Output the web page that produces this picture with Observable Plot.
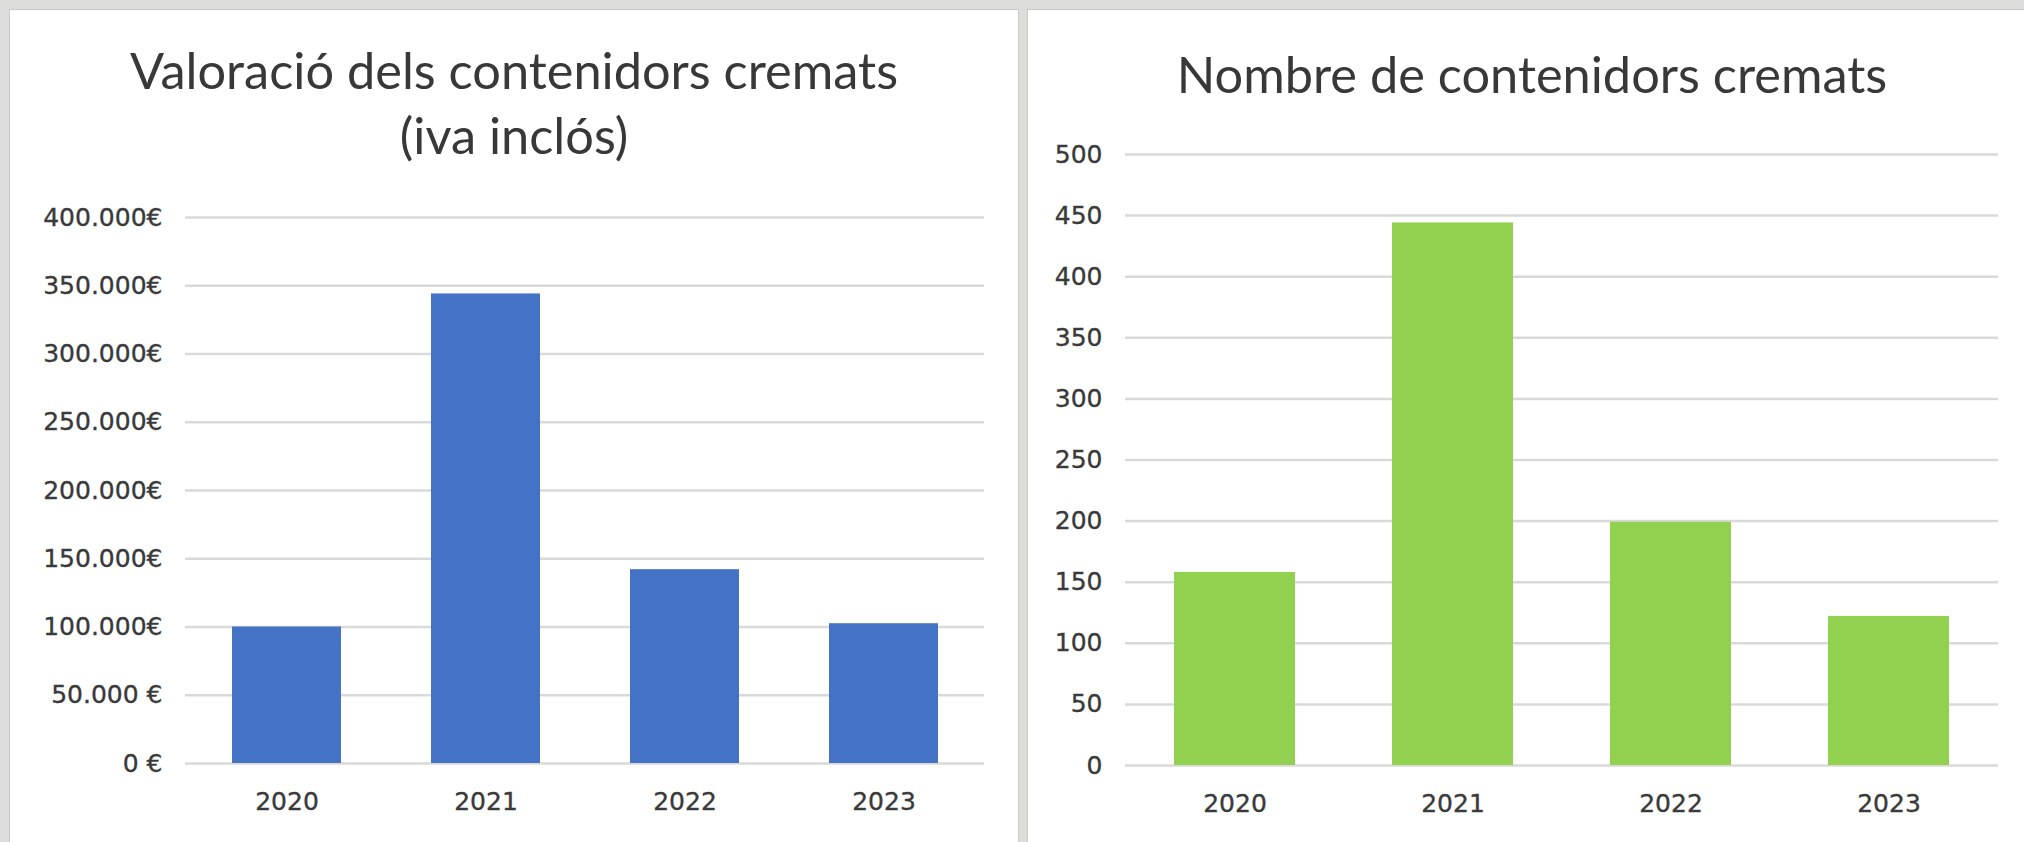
<!DOCTYPE html>
<html>
<head>
<meta charset="utf-8">
<script src="https://cdn.jsdelivr.net/npm/d3@7"></script>
<script src="https://cdn.jsdelivr.net/npm/@observablehq/plot@0.6"></script>
<style>
html, body { margin: 0; padding: 0; width: 2024px; height: 842px; overflow: hidden; background: #dcdcd9; }
.panel { position: absolute; background: #fff; border: 1px solid #c8c8c8; box-sizing: border-box; overflow: hidden; }
.title { position: absolute; left: 0; width: 100%; text-align: center; font-family: Lato, "Open Sans", sans-serif; color: #383838; font-size: 50.5px; line-height: 65px; white-space: nowrap; }
.panel svg { position: absolute; left: 0; top: 0; }
.panel svg text { stroke: currentColor; stroke-width: 0.35px; }
</style>
</head>
<body>
<div class="panel" id="left" style="left:9px; top:9px; width:1010px; height:840px;">
  <div class="title" style="top:27px;">Valoració dels contenidors cremats<br>(iva inclós)</div>
</div>
<div class="panel" id="right" style="left:1027px; top:9px; width:1010px; height:840px;">
  <div class="title" style="top:31px;">Nombre de contenidors cremats</div>
</div>
<script>
// Data
const years = ["2020", "2021", "2022", "2023"];
const valoracio = [100000, 344000, 142000, 102400];
const nombre = [158, 444, 199, 122];

const euroTicks = [0, 50000, 100000, 150000, 200000, 250000, 300000, 350000, 400000];
const euroLabels = ["0 €", "50.000 €", "100.000€", "150.000€", "200.000€", "250.000€", "300.000€", "350.000€", "400.000€"];
const countTicks = [0, 50, 100, 150, 200, 250, 300, 350, 400, 450, 500];
const countLabels = ["0", "50", "100", "150", "200", "250", "300", "350", "400", "450", "500"];

const textColor = "#3a3a3a";
const gridColor = "#d9d9d9";

function makeChart({values, ticks, labels, domainMax, fill, margins, padInner, letterSpacing}) {
  const data = years.map((y, i) => ({year: y, value: values[i]}));
  return Plot.plot({
    width: 1000,
    height: 830,
    marginLeft: margins[0],
    marginRight: margins[1],
    marginTop: margins[2],
    marginBottom: margins[3],
    style: {fontFamily: "DejaVu Sans", fontSize: "25px", color: textColor, background: "transparent", overflow: "visible"},
    x: {type: "band", domain: years, paddingInner: padInner, paddingOuter: padInner / 2},
    y: {domain: [0, domainMax]},
    marks: [
      Plot.gridY(ticks, {stroke: gridColor, strokeOpacity: 1, strokeWidth: 2.5}),
      Plot.barY(data, {x: "year", y: "value", fill: fill}),
      Plot.axisY({ticks: ticks, tickSize: 0, tickPadding: 23, tickFormat: d => labels[ticks.indexOf(d)], fontSize: 25, letterSpacing: letterSpacing, label: null}),
      Plot.axisX({tickSize: 0, tickPadding: 29, fontSize: 25, label: null})
    ]
  });
}

const leftChart = makeChart({
  values: valoracio, ticks: euroTicks, labels: euroLabels, domainMax: 400000,
  fill: "#4472C4", margins: [175, 26, 207, 77], padInner: 0.454, letterSpacing: 1.6
});
const rightChart = makeChart({
  values: nombre, ticks: countTicks, labels: countLabels, domainMax: 500,
  fill: "#92D050", margins: [97, 30, 144, 75], padInner: 0.447, letterSpacing: 0.3
});
document.getElementById("left").appendChild(leftChart);
document.getElementById("right").appendChild(rightChart);
</script>
</body>
</html>
